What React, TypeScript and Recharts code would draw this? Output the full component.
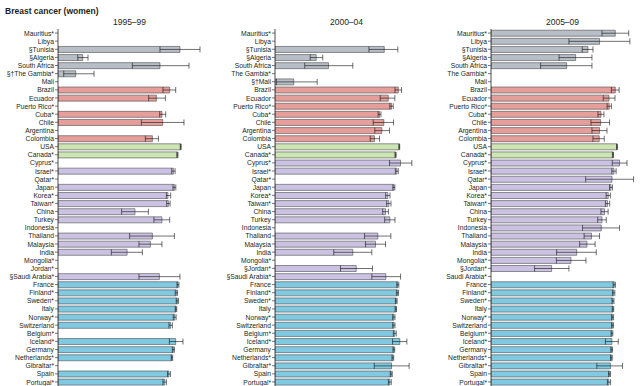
import { BarChart, Bar, XAxis, YAxis, ErrorBar, Cell } from "recharts";

// regions, in row order (top to bottom)
const regions = [
  ...Array(7).fill("africa"),
  ...Array(7).fill("csamerica"),
  ...Array(2).fill("namerica"),
  ...Array(15).fill("asia"),
  ...Array(13).fill("europe"),
];

const regionColors: Record<string, string> = {
  africa: "#b7bec6",
  csamerica: "#e59e9a",
  namerica: "#cde4b3",
  asia: "#cbc2e3",
  europe: "#7fc9e1",
};

const labels95 = [
  "Mauritius*", "Libya", "§Tunisia", "§Algeria", "South Africa", "§†The Gambia*", "Mali",
  "Brazil", "Ecuador", "Puerto Rico*", "Cuba*", "Chile", "Argentina", "Colombia",
  "USA", "Canada*",
  "Cyprus*", "Israel*", "Qatar*", "Japan", "Korea*", "Taiwan*", "China", "Turkey", "Indonesia",
  "Thailand", "Malaysia", "India", "Mongolia*", "Jordan*", "§Saudi Arabia*",
  "France", "Finland*", "Sweden*", "Italy", "Norway*", "Switzerland", "Belgium*", "Iceland*",
  "Germany", "Netherlands*", "Gibraltar*", "Spain", "Portugal*",
];

const labels00 = [
  "Mauritius*", "Libya", "§Tunisia", "§Algeria", "South Africa", "The Gambia*", "§†Mali",
  "Brazil", "Ecuador", "Puerto Rico*", "Cuba*", "Chile", "Argentina", "Colombia",
  "USA", "Canada*",
  "Cyprus*", "Israel*", "Qatar*", "Japan", "Korea*", "Taiwan*", "China", "Turkey", "Indonesia",
  "Thailand", "Malaysia", "India", "Mongolia*", "§Jordan*", "§Saudi Arabia*",
  "France", "Finland*", "Sweden*", "Italy", "Norway*", "Switzerland", "Belgium*", "Iceland*",
  "Germany", "Netherlands*", "Gibraltar*", "Spain", "Portugal*",
];

const labels05 = [
  "Mauritius*", "Libya", "§Tunisia", "§Algeria", "South Africa", "The Gambia*", "Mali",
  "Brazil", "Ecuador", "Puerto Rico*", "Cuba*", "Chile", "Argentina", "Colombia",
  "USA", "Canada*",
  "Cyprus*", "Israel*", "Qatar*", "Japan", "Korea*", "Taiwan*", "China", "Turkey", "Indonesia",
  "Thailand", "Malaysia", "India", "Mongolia*", "§Jordan*", "Saudi Arabia*",
  "France", "Finland*", "Sweden*", "Italy", "Norway*", "Switzerland", "Belgium*", "Iceland*",
  "Germany", "Netherlands*", "Gibraltar*", "Spain", "Portugal*",
];

// 5-year net survival (%) estimates
const est95 = [
  null, null, 85.3, 17.3, 71.3, 12.4, null,
  78.1, 68.8, null, 72.7, 73.2, null, 66,
  85.8, 83.5,
  null, 80.7, null, 81.4, 76.9, 77.2, 53.8, 72.7, null, 66, 64.6, 48.3, null, null, 70.9,
  83.9, 82.8, 83.5, 82.5, 81.6, 78.8, null, 82.3, 80.7, 79.7, null, 77.6, 74.6,
];
const ci95 = [
  null, null, [71.3, 99.3], [13.8, 21], [52, 91.6], [4, 25.2], null,
  [73.4, 82.3], [63.4, 75.1], null, [71.1, 75.3], [58.3, 88.1], null, [61.1, 70.2],
  [85.5, 86.1], [83.1, 83.9],
  null, [79.5, 81.9], null, [80.4, 82.4], [75.8, 78.8], [76, 78.4], [44.5, 63.2], [67.1, 78.1], null,
  [50.1, 81.4], [56.6, 72.7], [37.3, 59], null, null, [56.6, 85.3],
  [83.2, 84.6], [82, 83.6], [82.7, 84.3], [82, 83], [80.6, 82.6], [77.6, 80], null, [77.9, 87.4],
  [80, 81.4], [79.2, 80.2], null, [76.6, 78.6], [73.4, 75.8],
];

const est00 = [
  null, null, 76.4, 28.8, 37.4, null, 13.1,
  86.2, 79.2, 81.5, 73.1, 76.1, 74.7, 69.6,
  86.9, 84.3,
  87.8, 85.2, null, 83.1, 78.9, 79.6, 77.3, 80.3, null, 71.9, 70.3, 54.4, null, 56.8, 77.5,
  85.9, 85.7, 84.8, 84.5, 83.1, 83.1, 83.8, 87.3, 83.1, 82.4, 81.5, 81.3, 80.3,
];
const ci00 = [
  null, null, [65.7, 85.9], [24.6, 33.4], [20.8, 54.4], null, [1, 29.5],
  [83.9, 88.5], [73.6, 83.8], [80.3, 82.7], [72.1, 74.1], [68.7, 82.9], [69.8, 80.1], [66.6, 73.1],
  [86.6, 87.2], [83.9, 84.7],
  [80.1, 95.7], [84.2, 86.2], null, [82.4, 83.8], [77.4, 80.4], [78.1, 81.1], [75.3, 79.3], [76.7, 83.9], null,
  [62.6, 81], [63.3, 77.3], [41.1, 67.7], null, [45.8, 68.2], [67.7, 87.8],
  [85.2, 86.6], [85, 86.4], [84.2, 85.4], [84, 85], [82.3, 83.9], [82.3, 83.9], [82.8, 84.8], [82.2, 92.2],
  [82.5, 83.7], [81.8, 83], [69.4, 93.8], [80.6, 82], [79.3, 81.3],
];

const est05 = [
  86.9, 75.9, 67.8, 59.2, 52.9, null, null,
  86.9, 82.5, 82.7, 76.9, 76.6, 75.9, 75.7,
  88.1, 85.3,
  89.9, 86, 84.6, 83.9, 82, 81.5, 79.4, 77.6, 77.1, 70.3, 67.1, 59.9, 55.9, 42.4, null,
  86.2, 85.8, 85.3, 85.3, 85, 85, 84.6, 84.5, 84.4, 84.2, 83.5, 82.9, 82.5,
];
const ci05 = [
  [77.6, 96.3], [54.5, 97.1], [63.8, 71.3], [47.6, 70.6], [34.7, 70.6], null, null,
  [84.2, 89.6], [78.5, 86.7], [81.2, 84.2], [74.8, 79], [69.9, 82.9], [70.6, 81.1], [71.3, 79.2],
  [87.8, 88.4], [84.9, 85.7],
  [84.8, 95.1], [84.5, 87.5], [66.2, 99.7], [82.9, 84.9], [80.5, 83.5], [80, 83], [76.9, 81.9], [74.6, 80.6], [64, 89.9],
  [65.1, 75.9], [62, 72.8], [45.9, 73.6], [45.7, 66.4], [30.5, 54.5], null,
  [85.4, 87], [85, 86.6], [84.6, 86], [84.8, 85.8], [84.3, 85.7], [84.3, 85.7], [84, 85.2], [80, 89],
  [83.8, 85], [83.6, 84.8], [74, 92], [82.2, 83.6], [81.4, 83.6],
];

const FONT = "'Liberation Sans', Arial, sans-serif";
const INK = "#231f20";

function buildRows(labels: string[], est: (number | null)[], ci: (number[] | null)[]) {
  return labels.map((label, i) => {
    const v = est[i];
    const c = ci[i];
    return {
      label,
      region: regions[i],
      value: v,
      err: v != null && c ? [Math.max(0, v - c[0]), Math.max(0, c[1] - v)] : null,
    };
  });
}

// narrow tick label, no wrapping
function CountryTick(props: any) {
  const { x, y, payload } = props;
  return (
    <text
      transform={`translate(${x},${y}) scale(0.9,1)`}
      dy="0.34em"
      textAnchor="end"
      fontSize={7.5}
      fill={INK}
      fontFamily={FONT}
    >
      {payload.value}
    </text>
  );
}

function Panel({
  title,
  rows,
  left,
  axisWidth,
}: {
  title: string;
  rows: any[];
  left: number;
  axisWidth: number;
}) {
  const plotW = 143;
  return (
    <div style={{ position: "absolute", left, top: 0 }}>
      <div
        style={{
          position: "absolute",
          left: axisWidth,
          width: plotW,
          top: 17,
          textAlign: "center",
          fontSize: 8.5,
          fontFamily: FONT,
          color: INK,
          whiteSpace: "nowrap",
        }}
      >
        {title}
      </div>
      <div style={{ position: "absolute", top: 29, left: 0 }}>
        <BarChart
          width={axisWidth + plotW + 12}
          height={357}
          data={rows}
          layout="vertical"
          margin={{ top: 0, right: 12, bottom: 0, left: 0 }}
          barCategoryGap="15%"
        >
          <XAxis type="number" domain={[0, 100]} hide allowDataOverflow />
          <YAxis
            type="category"
            dataKey="label"
            width={axisWidth}
            interval={0}
            tickSize={3}
            tickMargin={1}
            axisLine={{ stroke: INK, strokeWidth: 0.8 }}
            tickLine={{ stroke: INK, strokeWidth: 0.6 }}
            tick={<CountryTick />}
          />
          <Bar
            dataKey="value"
            isAnimationActive={false}
            stroke="#4d4d4f"
            strokeWidth={0.6}
          >
            {rows.map((r, i) => (
              <Cell key={i} fill={regionColors[r.region]} />
            ))}
            <ErrorBar
              dataKey="err"
              direction="x"
              width={3}
              stroke="#111"
              strokeWidth={0.6}
              isAnimationActive={false}
            />
          </Bar>
        </BarChart>
      </div>
    </div>
  );
}

export default function App() {
  const rows95 = buildRows(labels95, est95, ci95);
  const rows00 = buildRows(labels00, est00, ci00);
  const rows05 = buildRows(labels05, est05, ci05);

  return (
    <div
      style={{
        position: "absolute",
        left: 0,
        top: 0,
        width: 640,
        height: 386,
        overflow: "hidden",
        background: "#fff",
        fontFamily: FONT,
      }}
    >
      <div
        style={{
          position: "absolute",
          left: 5,
          top: 6,
          fontSize: 8.5,
          fontWeight: "bold",
          color: INK,
        }}
      >
        Breast cancer (women)
      </div>
      <Panel title="1995–99" rows={rows95} left={0} axisWidth={58} />
      <Panel title="2000–04" rows={rows00} left={211} axisWidth={64} />
      <Panel title="2005–09" rows={rows05} left={430} axisWidth={61} />
    </div>
  );
}
